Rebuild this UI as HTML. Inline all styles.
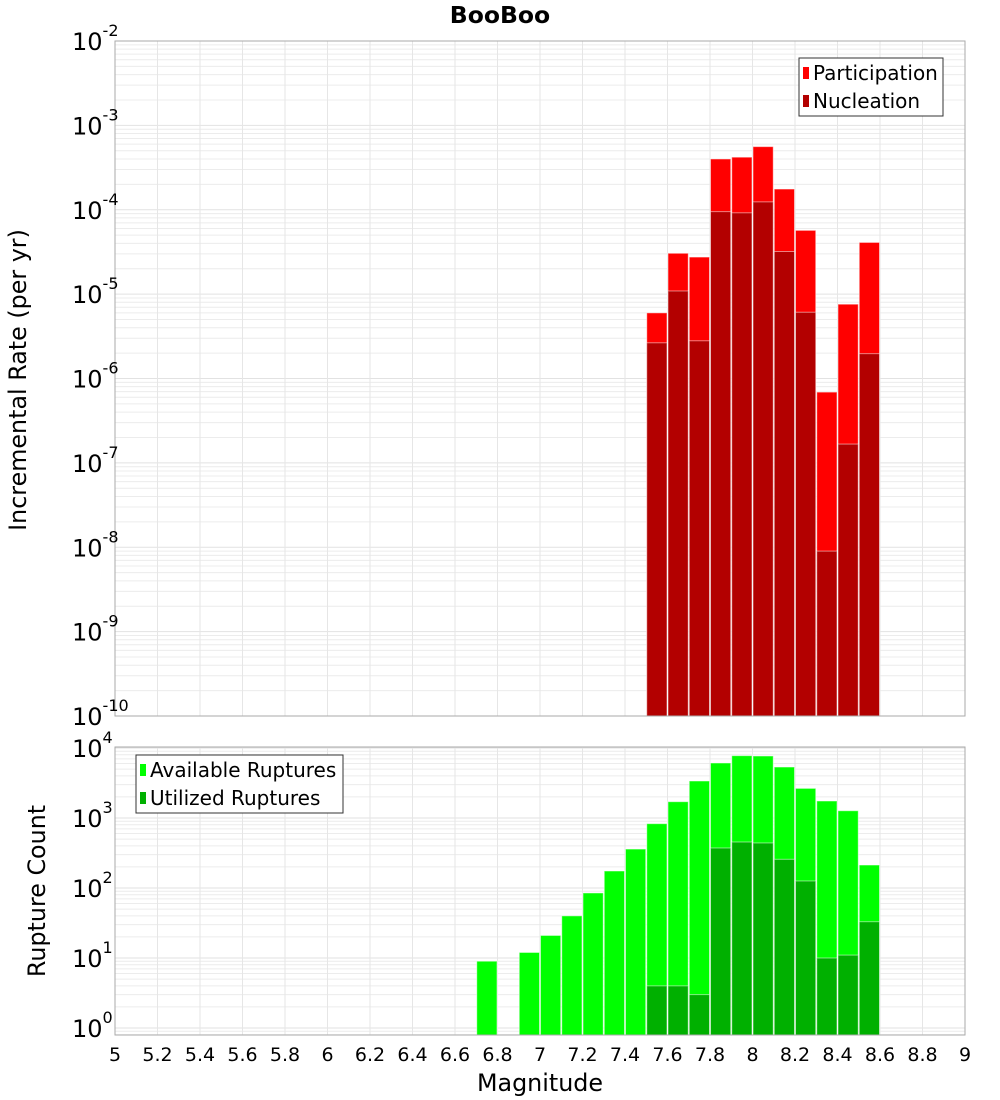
<!DOCTYPE html>
<html><head><meta charset="utf-8"><style>
body{margin:0;background:#fff;}
svg{display:block;font-family:"DejaVu Sans","Liberation Sans",sans-serif;}
</style></head><body>
<svg id="c" width="1000" height="1100" xmlns="http://www.w3.org/2000/svg"></svg>
<script>
// data
const topBins=[7.55,7.65,7.75,7.85,7.95,8.05,8.15,8.25,8.35,8.45,8.55];
const participation=[6.0e-6,3.05e-5,2.75e-5,4.0e-4,4.2e-4,5.6e-4,1.76e-4,5.7e-5,6.9e-7,7.6e-6,4.1e-5];
const nucleation=[2.65e-6,1.09e-5,2.8e-6,9.5e-5,9.2e-5,1.24e-4,3.2e-5,6.1e-6,9.0e-9,1.67e-7,1.97e-6];
const botBins=[6.75,6.95,7.05,7.15,7.25,7.35,7.45,7.55,7.65,7.75,7.85,7.95,8.05,8.15,8.25,8.35,8.45,8.55];
const available=[9,12,21,40,85,175,360,830,1710,3380,6110,7770,7690,5350,2650,1750,1270,213];
const utilBins=[7.55,7.65,7.75,7.85,7.95,8.05,8.15,8.25,8.35,8.45,8.55];
const utilized=[4,4,3,373,454,440,257,126,10,11,33];
const xTicks=[5,5.2,5.4,5.6,5.8,6,6.2,6.4,6.6,6.8,7,7.2,7.4,7.6,7.8,8,8.2,8.4,8.6,8.8,9];
const topExps=[-10,-9,-8,-7,-6,-5,-4,-3,-2];
const botExps=[0,1,2,3,4];

const NS="http://www.w3.org/2000/svg";
const svg=document.getElementById('c');
function el(t,a,p){const e=document.createElementNS(NS,t);for(const k in a)e.setAttribute(k,a[k]);(p||svg).appendChild(e);return e;}
const X0=115,X1=965;
const xs=v=>X0+(v-5)/4*(X1-X0);
const TY0=41,TY1=716;
const ty=v=>TY1-(Math.log10(v)+10)/8*(TY1-TY0);
const BY0=747,BY1=1035;
const by=v=>1028-Math.log10(v)*70;

function grid(y0,y1,ys,eMin,eMax){
  const g=el('g',{});
  
  
  for(let e=eMin;e<=eMax;e++)for(let m=1;m<10;m++){
    const y=ys(m*Math.pow(10,e));
    if(y<y0-0.5||y>y1+0.5)continue;
    el('line',{x1:X0,x2:X1,y1:y,y2:y,stroke:m==1?'#e2e2e2':'#ececec','stroke-width':1},g);
  }
  xTicks.forEach(t=>{const x=xs(t);el('line',{x1:x,x2:x,y1:y0,y2:y1,stroke:'#e6e6e6','stroke-width':1},g);});
}
function frame(y0,y1,name){
  const r=el('rect',{x:X0,y:y0,width:X1-X0,height:y1-y0,fill:'none',stroke:'#aaa','stroke-width':1});
  
  
}
function bars(bins,vals,ys,base,color,name){
  const g=el('g',{});
  
  
  bins.forEach((b,i)=>{
    const x=xs(b-0.05),w=xs(b+0.05)-x,y=ys(vals[i]);
    const r=el('rect',{x:x+0.5,y:y,width:w-1,height:base-y,fill:color,stroke:'#fff','stroke-opacity':0.5,'stroke-width':1},g);
    
    
  });
}
function yLabels(exps,ys,name){
  const g=el('g',{});
  
  
  exps.forEach(e=>{
    const y=ys(Math.pow(10,e));
    const t=el('text',{x:72,y:y+9,'font-size':24,fill:'#000'},g);
    t.textContent='10';
    const s=el('tspan',{dy:-14,'font-size':16},t);
    s.textContent=String(e);
  });
}

// top
grid(TY0,TY1,ty,-10,-2);
bars(topBins,participation,ty,TY1,'#ff0000','participation');
bars(topBins,nucleation,ty,TY1,'#b30000','nucleation');
frame(TY0,TY1,'top-plot-area');
yLabels(topExps,ty,'top-y-ticks');
// bottom
grid(BY0,BY1,by,-1,4);
bars(botBins,available,by,BY1,'#00ff00','available');
bars(utilBins,utilized,by,BY1,'#00b000','utilized');
frame(BY0,BY1,'bottom-plot-area');
yLabels(botExps,by,'bottom-y-ticks');

// x ticks
const xg=el('g',{});


xTicks.forEach(t=>{const tx=el('text',{x:xs(t),y:1061,'font-size':19,'text-anchor':'middle'},xg);tx.textContent=String(t);});

// titles
let t=el('text',{x:500,y:23,'font-size':23.5,'font-weight':'bold','text-anchor':'middle'});t.textContent='BooBoo';


t=el('text',{x:540,y:1091,'font-size':23.8,'text-anchor':'middle'});t.textContent='Magnitude';


t=el('text',{x:0,y:0,'font-size':23.8,'text-anchor':'middle',transform:'translate(26,380) rotate(-90)'});t.textContent='Incremental Rate (per yr)';


t=el('text',{x:0,y:0,'font-size':23.8,'text-anchor':'middle',transform:'translate(45,891) rotate(-90)'});t.textContent='Rupture Count';



// legends
function legend(x,y,w,items,name){
  const g=el('g',{});
  
  
  el('rect',{x:x,y:y,width:w,height:58,fill:'#fff',stroke:'#333','stroke-width':1},g);
  items.forEach((it,i)=>{
    const cy=y+15+i*28;
    const sw=el('rect',{x:x+4,y:cy-6,width:6,height:12,fill:it[1]},g);
    
    
    const tx=el('text',{x:x+14,y:cy+7,'font-size':20},g);tx.textContent=it[0];
    
    
  });
}
legend(799,58,144,[['Participation','#ff0000'],['Nucleation','#b30000']],'top-legend');
legend(136,755,207,[['Available Ruptures','#00ff00'],['Utilized Ruptures','#00b000']],'bottom-legend');
</script>
</body></html>
